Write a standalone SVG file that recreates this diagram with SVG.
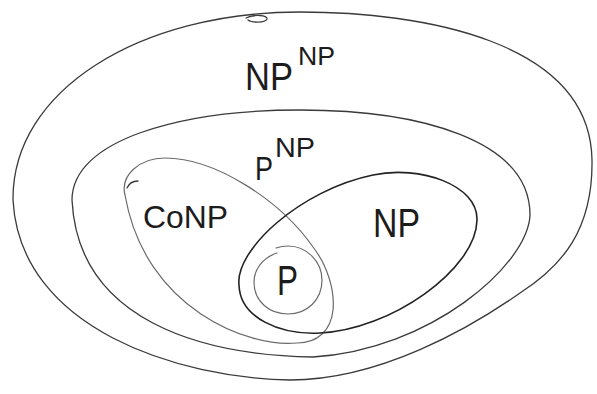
<svg xmlns="http://www.w3.org/2000/svg" width="597" height="394" viewBox="0 0 597 394">
<style>
.pen{fill:none;stroke:#3a3a3a;stroke-width:1.3;stroke-linecap:round;stroke-linejoin:round}
.dark{stroke:#222;stroke-width:1.6}
.light{stroke:#6a6a6a;stroke-width:1.2}
.lbl{font-family:"Liberation Sans","DejaVu Sans",sans-serif;fill:#1c1c1c}
</style>
<rect width="597" height="394" fill="#fff"/>
<g id="npnp">
<path class="pen" d="M300,12 C420,12 590,40 592,160 C593,230 562,266 520,293 C470,328 380,380 290,380 C180,378 20,330 13,200 C12,90 140,12 300,12"/>
<path class="pen" d="M246,18 C254,14 268,15 267,19 C265,23 252,23 248,20"/>
<text class="lbl" x="245" y="90" font-size="38" textLength="48" lengthAdjust="spacingAndGlyphs">NP</text>
<text class="lbl" x="298" y="65" font-size="25" textLength="37" lengthAdjust="spacingAndGlyphs">NP</text>
</g>
<g id="pnp">
<path class="pen" d="M72,200 C72,140 180,110 300,110 C420,110 530,140 530,215 C528,265 430,350 313,357 C200,355 78,320 72,200"/>
<text class="lbl" x="255" y="180" font-size="34" textLength="18" lengthAdjust="spacingAndGlyphs">P</text>
<text class="lbl" x="275" y="157" font-size="28" textLength="40" lengthAdjust="spacingAndGlyphs">NP</text>
</g>
<g id="conp">
<path class="pen light" d="M125,195 C120,175 140,158 165,158 C215,158 280,200 313,247 C327,265 335,290 333,310 C331,330 318,343 297,343 C250,348 145,310 125,195"/>
<path class="pen" d="M127,188 Q130,181 138,181"/>
<text class="lbl" x="143" y="228" font-size="32" textLength="85" lengthAdjust="spacingAndGlyphs">CoNP</text>
</g>
<g id="np">
<path class="pen dark" d="M239,285 C235,250 300,190 373,175 C420,165 478,185 477,220 C476,270 390,330 320,333 C280,335 240,318 239,285"/>
<text class="lbl" x="373" y="237" font-size="40" textLength="47" lengthAdjust="spacingAndGlyphs">NP</text>
</g>
<g id="p">
<path class="pen light" d="M277,253 C262,258 254,270 254,282 C254,302 270,314 288,314 C307,314 322,300 322,280 C322,261 306,246 288,246 C283,246 279,247 276,248"/>
<text class="lbl" x="277" y="295" font-size="42" textLength="21" lengthAdjust="spacingAndGlyphs">P</text>
</g>
</svg>
